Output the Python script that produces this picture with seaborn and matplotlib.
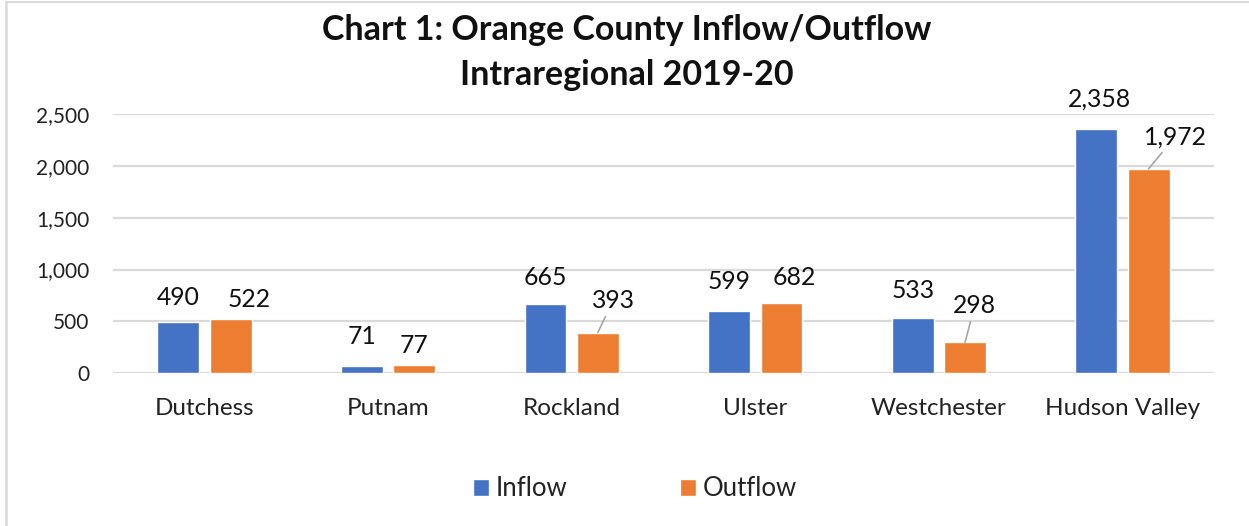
import pandas as pd
import numpy as np
import matplotlib.pyplot as plt
import seaborn as sns

# data
regions = ["Dutchess", "Putnam", "Rockland", "Ulster", "Westchester", "Hudson Valley"]
inflow = [490, 71, 665, 599, 533, 2358]
outflow = [522, 77, 393, 682, 298, 1972]
series = ["Inflow", "Outflow"]
y_ticks = [0, 500, 1000, 1500, 2000, 2500]

df = pd.DataFrame({
    "region": regions * 2,
    "flow": inflow + outflow,
    "series": ["Inflow"] * len(regions) + ["Outflow"] * len(regions),
})

sns.set_style("white")
plt.rcParams["font.family"] = ["Lato", "DejaVu Sans"]

blue = "#4472C4"
orange = "#ED7D31"

fig = plt.figure(figsize=(12.49, 5.26), dpi=100)
ax = fig.add_axes([0.0902, 0.2903, 0.8820, 0.4930])

sns.barplot(data=df, x="region", y="flow", hue="series", hue_order=series,
            palette=[blue, orange], width=0.57, gap=0.2, order=regions,
            saturation=1, ax=ax, legend=True)

ax.set_ylim(0, 2500)
ax.set_xlim(-0.5, len(regions) - 0.5)
ax.set_yticks(y_ticks)
ax.set_yticklabels([f"{t:,}" for t in y_ticks], fontsize=15, color="#222222")
ax.tick_params(axis="y", length=0, pad=17)
ax.tick_params(axis="x", length=0, pad=18, labelsize=17.5, labelcolor="#222222")
ax.set_xlabel("")
ax.set_ylabel("")
ax.yaxis.grid(True, color="#d9d9d9", linewidth=1.6)
ax.set_axisbelow(True)
for s in ax.spines.values():
    s.set_visible(False)

# label offsets in points (dx, dy) and whether a leader line is drawn
offs_in = [(0, 18), (0, 21), (0, 19.5), (0, 21.5), (0, 20), (2, 21)]
offs_out = [(13, 14), (0, 14.5), (11, 23), (9, 18), (7, 26.5), (19, 23)]
leader_out = [False, False, True, False, True, True]

bars_in = ax.containers[0]
bars_out = ax.containers[1]
for i, b in enumerate(bars_in):
    x = b.get_x() + b.get_width() / 2
    ax.annotate(f"{inflow[i]:,}", (x, b.get_height()), xytext=offs_in[i],
                textcoords="offset points", ha="center", va="center",
                fontsize=17.8, color="#111111", annotation_clip=False)
for i, b in enumerate(bars_out):
    x = b.get_x() + b.get_width() / 2
    arrow = None
    if leader_out[i]:
        arrow = dict(arrowstyle="-", color="#a6a6a6", lw=1.2,
                     shrinkA=1, shrinkB=0)
    ax.annotate(f"{outflow[i]:,}", (x, b.get_height()), xytext=offs_out[i],
                textcoords="offset points", ha="center", va="center",
                fontsize=17.8, color="#111111", arrowprops=arrow,
                annotation_clip=False)

leg = ax.legend(loc="center", bbox_to_anchor=(0.474, -0.446), ncol=2,
                frameon=False, fontsize=18.5, handlelength=0.62,
                handleheight=0.62, handletextpad=0.25, columnspacing=4.4)
for t in leg.get_texts():
    t.set_color("#222222")

fig.text(0.502, 0.943, "Chart 1: Orange County Inflow/Outflow", ha="center",
         va="center", fontsize=24.5, fontweight="bold", color="#111111")
fig.text(0.502, 0.857, "Intraregional 2019-20", ha="center",
         va="center", fontsize=24.5, fontweight="bold", color="#111111")

# chart frame remnants at left and top
fig.add_artist(plt.Line2D([5.5 / 1249, 5.5 / 1249], [0, 1 - 2 / 526],
                          transform=fig.transFigure, color="#d9d9d9", lw=1.8))
fig.add_artist(plt.Line2D([5.5 / 1249, 1], [1 - 2 / 526, 1 - 2 / 526],
                          transform=fig.transFigure, color="#d9d9d9", lw=1.5))

fig.savefig("out.png", dpi=100, facecolor="white")
